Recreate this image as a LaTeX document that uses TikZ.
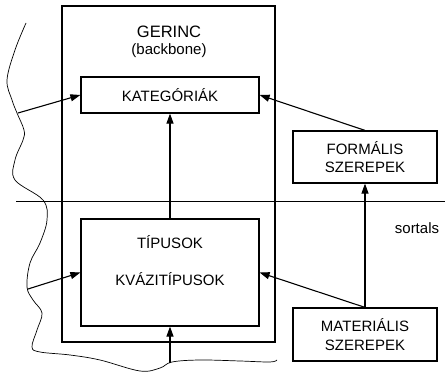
\documentclass[tikz,border=0pt]{standalone}
\usepackage{fontspec}
\setmainfont{Liberation Sans}
\usetikzlibrary{arrows.meta}

\begin{document}
\begin{tikzpicture}[x=1pt,y=1pt,line width=1.1pt,
	font=\fontsize{15}{18.5}\selectfont,
	>={Triangle[length=10pt,width=7pt]}]
	\useasboundingbox (0,0) rectangle (445,372);
	% hullamos szel
	\draw[line width=0.7pt] plot[smooth,tension=0.6] coordinates {
		(26,349) (15,322) (7,292) (12,272) (17,259) (24,242) (23,232)
		(15,212) (15,192) (43,172) (47,152) (40,129) (30,109) (27,85)
		(33,72) (42,59) (37,42) (32,25) (40,20) (70,17) (100,12)
		(140,1) (160,4) (172,10) (200,12) (240,11) (270,10) (277,12)};
	\draw[line width=0.8pt] (16,171) -- (445,171);
	
	\begin{scope}[every node/.style={draw,rectangle,line width=1.2pt,
		inner sep=0pt,align=center}]
	\node (gerinc) at (168.5,198) [minimum width=213,minimum height=336]{};
	\node (kategoriak) at (170,277) [minimum width=178,minimum height=36]{KATEGÓRIÁK};
	\node (tipusok) at (170,99.5) [minimum width=178,minimum height=107]{};
	\node (formalis) at (365,215) [minimum width=144,minimum height=52]{FORMÁLIS\\SZEREPEK};
	\node (materialis) at (365,37.5) [minimum width=144,minimum height=53]{MATERIÁLIS\\SZEREPEK};
	\end{scope}
	
	\node (cim) at (169,340) [font=\fontsize{16.5}{19}\selectfont]{GERINC};
	\node (backbone) at (169,321) {(backbone)};
	\node (tipus) at (170,130) {TÍPUSOK};
	\node (kvazi) at (170,93) {KVÁZITÍPUSOK};
	\node (sortals) at (417,144) {sortals};
	
	\coordinate (w1) at (18,259);
	\coordinate (w2) at (28,83);
	\coordinate (lent) at (170,9);
	
	\path[->] (w1) edge (kategoriak.west);
	\path[->] (w2) edge (tipusok.west);
	\path[->] (tipusok) edge (kategoriak);
	\path[->] (lent) edge (tipusok);
	\path[->] (materialis) edge (formalis);
	\path[->] (formalis.north) edge (kategoriak.east);
	\path[->] (materialis.north) edge (tipusok.east);
\end{tikzpicture}
\end{document}
